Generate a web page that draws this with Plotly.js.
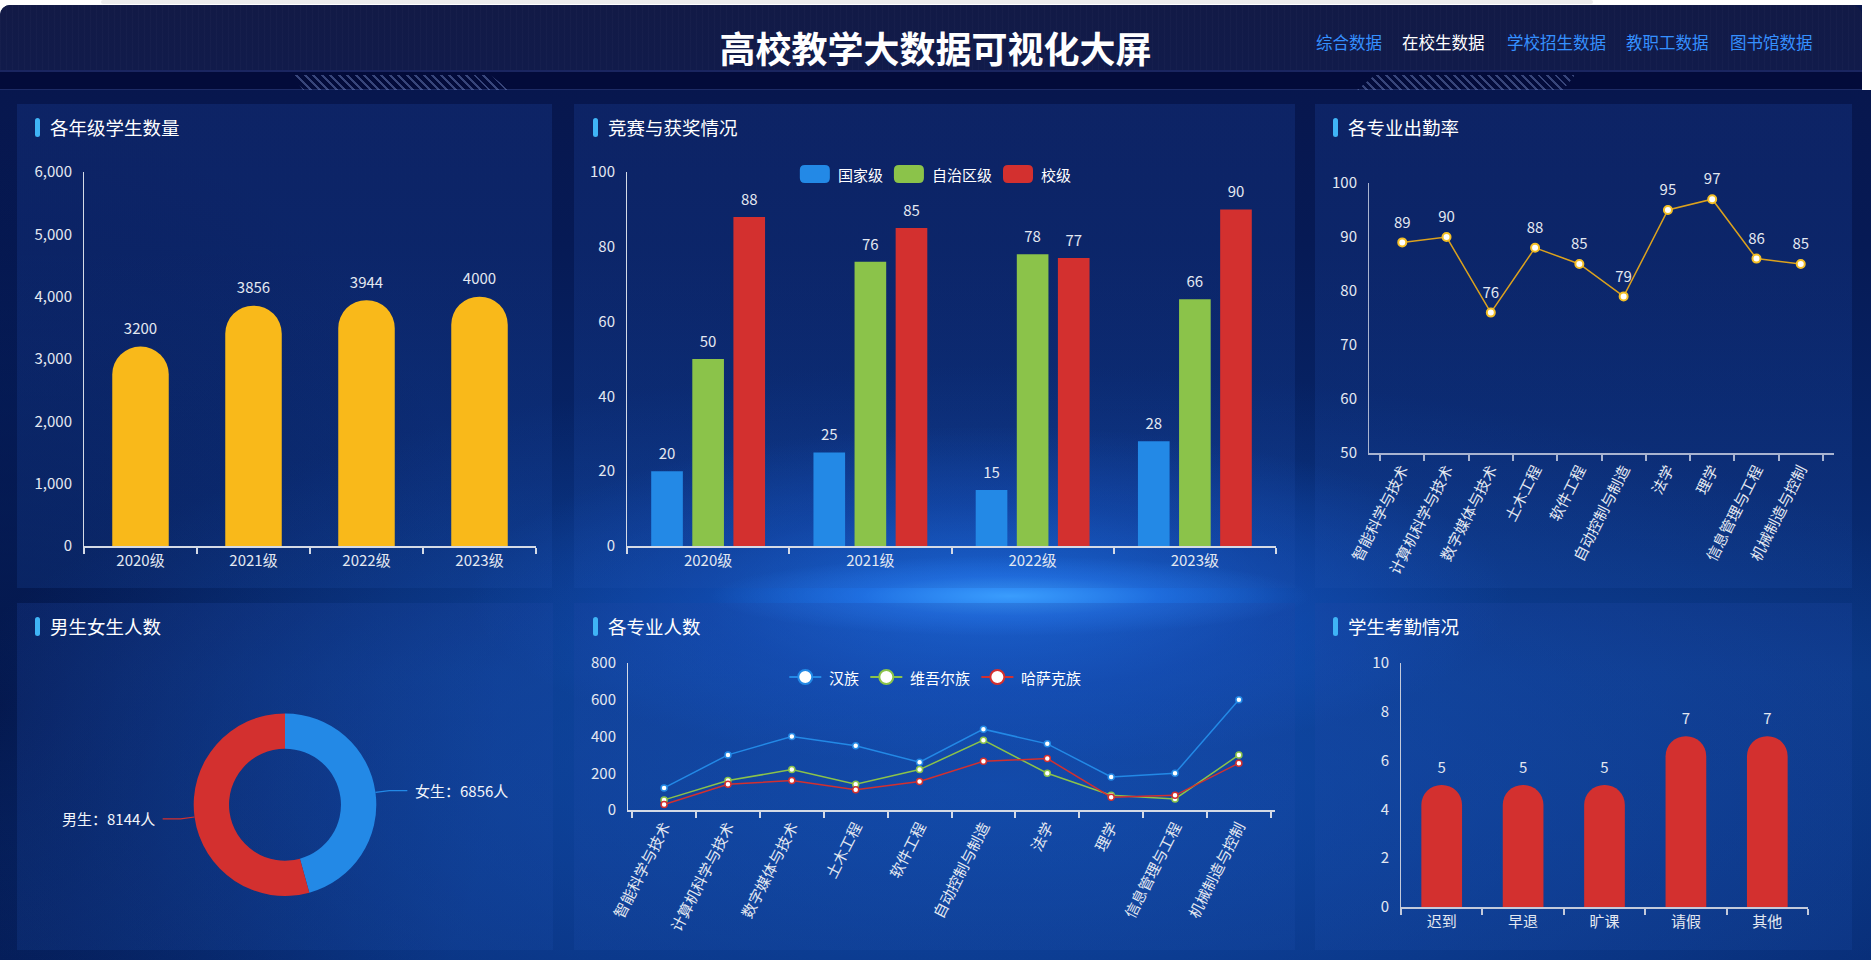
<!DOCTYPE html>
<html lang="zh-CN">
<head>
<meta charset="utf-8">
<title>高校教学大数据可视化大屏</title>
<script src="https://cdn.plot.ly/plotly-3.0.1.min.js"></script>
<style>
  html, body { margin:0; padding:0; width:1871px; height:960px; overflow:hidden; background:#ffffff;
    font-family:"Microsoft YaHei","Noto Sans CJK SC","Noto Sans",sans-serif; }
  #scrollbar { position:absolute; left:101px; top:0; width:1492px; height:4px; background:#ececec; border-radius:2px; }
  #screen { position:absolute; left:0; top:5px; width:1871px; height:955px; overflow:hidden;
    border-radius:10px 0 0 0;
    background:
      radial-gradient(ellipse 300px 40px at 1010px 591px, rgba(60,160,255,0.95), rgba(40,130,250,0.5) 50%, rgba(30,110,240,0) 100%),
      radial-gradient(ellipse 520px 170px at 990px 591px, rgba(30,120,245,0.75), rgba(25,100,230,0.3) 55%, rgba(20,80,200,0) 100%),
      radial-gradient(ellipse 1100px 420px at 1000px 780px, rgba(18,85,190,0.7), rgba(12,60,150,0) 100%),
      radial-gradient(ellipse 500px 600px at 0px 700px, rgba(2,14,60,0.8), rgba(2,14,60,0) 100%),
      linear-gradient(180deg, #08154a 0%, #061a55 25%, #07266a 50%, #0a3580 70%, #082c74 100%);
  }
  #rightedge { position:absolute; left:1862px; top:0; width:9px; height:90px; background:#ffffff; }
  #header { position:absolute; left:0; top:5px; width:1862px; height:65px; border-radius:10px 10px 0 0;
    background:
      repeating-linear-gradient(90deg, rgba(255,255,255,0.018) 0 1px, rgba(0,0,0,0) 1px 6px),
      linear-gradient(180deg, #121a46 0%, #111b4b 100%); }
  #band { position:absolute; left:0; top:70px; width:1862px; height:20px; box-sizing:border-box;
    background:#030b3a; border-top:2px solid #1a2560; border-bottom:1px solid #1d2b66; }
  .stripes { position:absolute; top:75px; height:15px;
    background:repeating-linear-gradient(45deg, rgba(120,140,200,0.45) 0 2px, rgba(0,0,0,0) 2px 6px); }
  #stripesL { left:293px; width:217px; clip-path:polygon(0 0, 197px 0, 217px 15px, 10px 15px); }
  #stripesR { left:1357px; width:218px; clip-path:polygon(18px 0, 218px 0, 206px 15px, 0 15px); }
  #title { position:absolute; left:0; top:28px; width:1871px; height:38px; line-height:38px; text-align:center;
    color:#ffffff; font-size:36px; font-weight:bold; }
  .nav { position:absolute; top:32px; height:20px; line-height:20px; font-size:16.5px; color:#3590ff; white-space:nowrap; }
  .nav.active { color:#ffffff; }
  .panel { position:absolute;
    background:linear-gradient(180deg, rgba(30,70,165,0.26) 0%, rgba(30,80,175,0.20) 100%); }
  .ptitle { position:absolute; left:33px; top:13px; height:20px; line-height:20px; color:#ffffff; font-size:18.5px; white-space:nowrap; }
  .ptitle::before { content:''; position:absolute; left:-15px; top:1px; width:5px; height:19px; border-radius:3px; background:#3fb4f6; }
  .chart { position:absolute; left:0; top:0; }
</style>
</head>
<body>
<div id="scrollbar"></div>
<div id="screen"></div>
<div id="rightedge"></div>
<div id="header"></div>
<div id="band"></div>
<div id="stripesL" class="stripes"></div>
<div id="stripesR" class="stripes"></div>
<div id="title">高校教学大数据可视化大屏</div>
<div class="nav" style="left:1316px">综合数据</div>
<div class="nav active" style="left:1402px">在校生数据</div>
<div class="nav" style="left:1507px">学校招生数据</div>
<div class="nav" style="left:1626px">教职工数据</div>
<div class="nav" style="left:1730px">图书馆数据</div>

<div class="panel" style="left:17px;top:104px;width:535px;height:484px">
  <div id="c1" class="chart"></div><div class="ptitle">各年级学生数量</div></div>
<div class="panel" style="left:574px;top:104px;width:721px;height:484px">
  <div id="c2" class="chart"></div><div class="ptitle" style="left:34px">竞赛与获奖情况</div></div>
<div class="panel" style="left:1315px;top:104px;width:537px;height:484px">
  <div id="c3" class="chart"></div><div class="ptitle">各专业出勤率</div></div>
<div class="panel" style="left:17px;top:603px;width:536px;height:347px">
  <div id="c4" class="chart"></div><div class="ptitle">男生女生人数</div></div>
<div class="panel" style="left:574px;top:603px;width:721px;height:347px">
  <div id="c5" class="chart"></div><div class="ptitle" style="left:34px">各专业人数</div></div>
<div class="panel" style="left:1315px;top:603px;width:537px;height:347px">
  <div id="c6" class="chart"></div><div class="ptitle">学生考勤情况</div></div>

<script>
// ---------- data ----------
// 各年级学生数量
const gradeCats = ['2020级', '2021级', '2022级', '2023级'];
const gradeCounts = [3200, 3856, 3944, 4000];

// 竞赛与获奖情况
const awardCats = ['2020级', '2021级', '2022级', '2023级'];
const awardNames = ['国家级', '自治区级', '校级'];
const awardNational = [20, 25, 15, 28];
const awardRegional = [50, 76, 78, 66];
const awardSchool = [88, 85, 77, 90];

// 各专业出勤率
const majors = ['智能科学与技术', '计算机科学与技术', '数字媒体与技术', '土木工程', '软件工程',
                '自动控制与制造', '法学', '理学', '信息管理与工程', '机械制造与控制'];
const attendanceRate = [89, 90, 76, 88, 85, 79, 95, 97, 86, 85];

// 男生女生人数
const genderLabels = ['女生', '男生'];
const genderCounts = [6856, 8144];

// 各专业人数
const ethnicNames = ['汉族', '维吾尔族', '哈萨克族'];
const hanCounts = [120, 300, 400, 350, 260, 440, 360, 180, 200, 600];
const uyghurCounts = [55, 160, 220, 140, 220, 380, 200, 80, 60, 300];
const kazakhCounts = [30, 140, 160, 110, 155, 265, 280, 70, 80, 255];

// 学生考勤情况
const checkCats = ['迟到', '早退', '旷课', '请假', '其他'];
const checkCounts = [5, 5, 5, 7, 7];

// ---------- shared styling ----------
const FONT = '"Microsoft YaHei","Noto Sans CJK SC","Noto Sans",sans-serif';
const TXT = '#e3e8f1';
const AXIS = '#d4dae6';
const BLUE = '#2389e6', GREEN = '#8bc34a', RED = '#d3302f', YELLOW = '#f9b91a';
const CFG = {staticPlot: true, displayModeBar: false};

function baseLayout(w, h, m) {
  return {width: w, height: h, margin: m, paper_bgcolor: 'rgba(0,0,0,0)', plot_bgcolor: 'rgba(0,0,0,0)',
          showlegend: false, font: {family: FONT, size: 15, color: TXT}};
}
function catAxis(extra) {
  return Object.assign({type: 'category', showline: true, linecolor: AXIS, linewidth: 2,
    ticks: 'outside', tickson: 'boundaries', ticklen: 6, tickwidth: 2, tickcolor: AXIS,
    showgrid: false, zeroline: false, tickfont: {family: FONT, size: 15, color: TXT}, fixedrange: true}, extra || {});
}
function valAxis(range, dtick, extra) {
  return Object.assign({range: range, dtick: dtick, tick0: 0, showline: true, linecolor: AXIS, linewidth: 1,
    ticks: '', showgrid: false, zeroline: false, ticklabelstandoff: 8,
    tickfont: {family: FONT, size: 15, color: TXT}, fixedrange: true}, extra || {});
}
// hidden linear axis laid over a category axis, used to place value labels
function overlayAxis(n) {
  return {overlaying: 'x', range: [-0.5, n - 0.5], visible: false, fixedrange: true};
}
function labelTrace(xs, ys, axis) {
  return {type: 'scatter', mode: 'markers+text', x: xs, y: ys, xaxis: axis || 'x2', yaxis: 'y',
    text: ys.map(String), textposition: 'top center', cliponaxis: false,
    textfont: {family: FONT, size: 15, color: TXT},
    marker: {size: 12, color: 'rgba(0,0,0,0)'}, hoverinfo: 'skip'};
}
// pixel (relative to chart div) -> paper coordinates
function toPaper(m, w, h) {
  const pw = w - m.l - m.r, ph = h - m.t - m.b;
  return {x: px => (px - m.l) / pw, y: py => 1 - (py - m.t) / ph};
}
function roundRectPath(P, x0, y0, x1, y1, r) {
  const pts = [
    ['M', x0 + r, y0], ['L', x1 - r, y0], ['Q', x1, y0, x1, y0 + r], ['L', x1, y1 - r],
    ['Q', x1, y1, x1 - r, y1], ['L', x0 + r, y1], ['Q', x0, y1, x0, y1 - r], ['L', x0, y0 + r],
    ['Q', x0, y0, x0 + r, y0]];
  return pts.map(p => {
    let s = p[0];
    for (let i = 1; i < p.length; i += 2) s += (i > 1 ? ' ' : '') + P.x(p[i]).toFixed(5) + ',' + P.y(p[i + 1]).toFixed(5);
    return s;
  }).join(' ') + ' Z';
}

// ---------- 各年级学生数量 ----------
(function () {
  const W = 535, H = 484, m = {l: 67, r: 16, t: 68, b: 42};
  const bars = {type: 'bar', x: gradeCats, y: gradeCounts, width: 0.5,
    marker: {color: YELLOW, cornerradius: '50%'}, hoverinfo: 'skip'};
  const labels = labelTrace(gradeCounts.map((v, i) => i), gradeCounts);
  const layout = Object.assign(baseLayout(W, H, m), {
    xaxis: catAxis(), xaxis2: overlayAxis(gradeCats.length),
    yaxis: valAxis([0, 6000], 1000, {tickformat: ','})});
  Plotly.newPlot('c1', [bars, labels], layout, CFG);
})();

// ---------- 竞赛与获奖情况 ----------
(function () {
  const W = 721, H = 484, m = {l: 53.3, r: 19.2, t: 68, b: 42};
  const series = [awardNational, awardRegional, awardSchool];
  const colors = [BLUE, GREEN, RED];
  const bargap = 0.24, slot = (1 - bargap) / series.length;
  const traces = series.map((vals, k) => ({type: 'bar', name: awardNames[k], x: awardCats, y: vals,
    marker: {color: colors[k]}, hoverinfo: 'skip'}));
  series.forEach((vals, k) => {
    traces.push(labelTrace(vals.map((v, i) => i + (k - (series.length - 1) / 2) * slot), vals));
  });
  // legend: rounded swatches + names, centred in the panel
  const P = toPaper(m, W, H);
  const iconW = 30, iconH = 18, gapText = 6, gapItem = 13, fs = 15, cy = 70;
  const widths = awardNames.map(n => iconW + gapText + n.length * fs);
  const total = widths.reduce((a, b) => a + b, 0) + gapItem * (awardNames.length - 1);
  let x = W / 2 - total / 2;
  const shapes = [], annotations = [];
  awardNames.forEach((n, k) => {
    shapes.push({type: 'path', xref: 'paper', yref: 'paper', line: {width: 0}, fillcolor: colors[k],
      path: roundRectPath(P, x, cy - iconH / 2, x + iconW, cy + iconH / 2, 5)});
    annotations.push({xref: 'paper', yref: 'paper', x: P.x(x + iconW + gapText), y: P.y(cy), xanchor: 'left', yanchor: 'middle',
      text: n, showarrow: false, font: {family: FONT, size: fs, color: '#ffffff'}});
    x += widths[k] + gapItem;
  });
  const layout = Object.assign(baseLayout(W, H, m), {
    barmode: 'group', bargap: bargap, bargroupgap: 0.23,
    xaxis: catAxis(), xaxis2: overlayAxis(awardCats.length),
    yaxis: valAxis([0, 100], 20), shapes: shapes, annotations: annotations});
  Plotly.newPlot('c2', traces, layout, CFG);
})();

// ---------- 各专业出勤率 ----------
(function () {
  const W = 537, H = 484, m = {l: 54, r: 18, t: 79.3, b: 134.7};
  const line = {type: 'scatter', mode: 'lines+markers', x: majors, y: attendanceRate,
    line: {color: '#dca21d', width: 1.5}, marker: {size: 8, color: '#ffffff', line: {color: '#f4bf26', width: 2}},
    hoverinfo: 'skip'};
  const labels = labelTrace(majors, attendanceRate, 'x');
  labels.marker.size = 16;
  const layout = Object.assign(baseLayout(W, H, m), {
    xaxis: catAxis({tickangle: -63, linecolor: '#a9b4d0', tickcolor: '#a9b4d0', tickfont: {family: FONT, size: 15, color: TXT}}),
    yaxis: valAxis([50, 100], 10, {linecolor: '#a9b4d0'})});
  Plotly.newPlot('c3', [line, labels], layout, CFG);
})();

// ---------- 男生女生人数 ----------
(function () {
  const W = 536, H = 347, m = {l: 0, r: 0, t: 0, b: 0};
  const cx = 268, cy = 201.7, R = 91.3;
  const P = toPaper(m, W, H);
  const colors = [BLUE, RED];
  const pie = {type: 'pie', values: genderCounts, labels: genderLabels, hole: 0.613, sort: false,
    direction: 'clockwise', rotation: 0, textinfo: 'none', hoverinfo: 'skip',
    marker: {colors: colors, line: {width: 0}},
    domain: {x: [P.x(cx - R), P.x(cx + R)], y: [P.y(cy + R), P.y(cy - R)]}};
  // outside labels with two-segment leader lines at each slice's mid-angle
  const total = genderCounts.reduce((a, b) => a + b, 0);
  let acc = 0;
  const shapes = [], annotations = [];
  genderCounts.forEach((v, k) => {
    const mid = (acc + v / 2) / total * 2 * Math.PI;
    acc += v;
    const sx = Math.sin(mid), sy = -Math.cos(mid);
    const x0 = cx + R * sx, y0 = cy + R * sy;
    const x1 = cx + (R + 14) * sx, y1 = cy + (R + 14) * sy;
    const dir = sx >= 0 ? 1 : -1;
    const x2 = x1 + dir * 18;
    shapes.push({type: 'path', xref: 'paper', yref: 'paper', line: {color: colors[k], width: 1.2},
      path: 'M' + P.x(x0) + ',' + P.y(y0) + ' L' + P.x(x1) + ',' + P.y(y1) + ' L' + P.x(x2) + ',' + P.y(y1)});
    annotations.push({xref: 'paper', yref: 'paper', x: P.x(x2 + dir * 6), y: P.y(y1),
      xanchor: dir > 0 ? 'left' : 'right', yanchor: 'middle', showarrow: false,
      text: genderLabels[k] + '：' + v + '人', font: {family: FONT, size: 15, color: '#f2f5fa'}});
  });
  const layout = Object.assign(baseLayout(W, H, m), {shapes: shapes, annotations: annotations});
  Plotly.newPlot('c4', [pie], layout, CFG);
})();

// ---------- 各专业人数 ----------
(function () {
  const W = 721, H = 347, m = {l: 54.3, r: 20, t: 60.3, b: 139.7};
  const series = [hanCounts, uyghurCounts, kazakhCounts];
  const colors = [BLUE, GREEN, RED];
  const traces = series.map((vals, k) => ({type: 'scatter', mode: 'lines+markers', name: ethnicNames[k],
    x: majors, y: vals, line: {color: colors[k], width: 1.5},
    marker: {size: 6, color: '#ffffff', line: {color: colors[k], width: 1.5}}, hoverinfo: 'skip'}));
  // legend: line + ring symbols with names, centred in the panel
  const P = toPaper(m, W, H);
  const lineW = 32, rr = 7, gapText = 6, gapItem = 13, fs = 15, cy = 74.3;
  const widths = ethnicNames.map(n => lineW + gapText + n.length * fs);
  const total = widths.reduce((a, b) => a + b, 0) + gapItem * (ethnicNames.length - 1);
  let x = W / 2 - total / 2;
  const shapes = [], annotations = [];
  ethnicNames.forEach((n, k) => {
    shapes.push({type: 'line', xref: 'paper', yref: 'paper', x0: P.x(x), x1: P.x(x + lineW), y0: P.y(cy), y1: P.y(cy),
      line: {color: colors[k], width: 2}});
    const c = x + lineW / 2;
    shapes.push({type: 'circle', xref: 'paper', yref: 'paper', x0: P.x(c - rr), x1: P.x(c + rr), y0: P.y(cy + rr), y1: P.y(cy - rr),
      fillcolor: '#ffffff', line: {color: colors[k], width: 2}});
    annotations.push({xref: 'paper', yref: 'paper', x: P.x(x + lineW + gapText), y: P.y(cy), xanchor: 'left', yanchor: 'middle',
      text: n, showarrow: false, font: {family: FONT, size: fs, color: '#ffffff'}});
    x += widths[k] + gapItem;
  });
  const layout = Object.assign(baseLayout(W, H, m), {
    xaxis: catAxis({tickangle: -63, tickfont: {family: FONT, size: 15, color: TXT}}),
    yaxis: valAxis([0, 800], 200), shapes: shapes, annotations: annotations});
  Plotly.newPlot('c5', traces, layout, CFG);
})();

// ---------- 学生考勤情况 ----------
(function () {
  const W = 537, H = 347, m = {l: 86.2, r: 43.6, t: 60.3, b: 43.3};
  const bars = {type: 'bar', x: checkCats, y: checkCounts, width: 0.5,
    marker: {color: RED, cornerradius: '50%'}, hoverinfo: 'skip'};
  const labels = labelTrace(checkCounts.map((v, i) => i), checkCounts);
  const layout = Object.assign(baseLayout(W, H, m), {
    xaxis: catAxis({linecolor: '#c3cadb', tickcolor: '#c3cadb'}), xaxis2: overlayAxis(checkCats.length),
    yaxis: valAxis([0, 10], 2, {linecolor: '#c3cadb'})});
  Plotly.newPlot('c6', [bars, labels], layout, CFG);
})();
</script>
</body>
</html>
